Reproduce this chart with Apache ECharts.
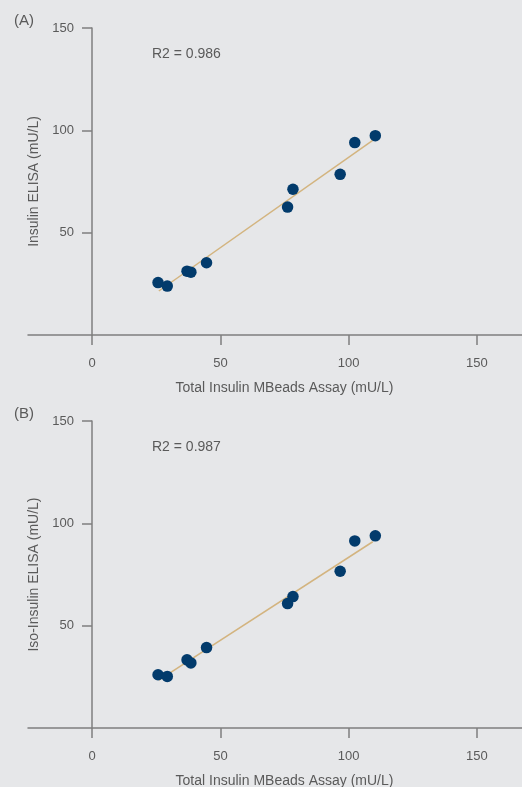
<!DOCTYPE html>
<html>
<head>
<meta charset="utf-8">
<script src="https://cdn.jsdelivr.net/npm/echarts@6/dist/echarts.min.js"></script>
<style>
  html, body { margin: 0; padding: 0; background: #e6e7e9; }
  #main { width: 522px; height: 787px; }
</style>
</head>
<body>
<div id="main"></div>
<script>
// x 值两图共用
var xVals = [25.7, 29.3, 37.0, 38.5, 44.6, 76.2, 78.3, 96.7, 102.4, 110.4]
var yA = [25.6, 23.9, 31.2, 30.7, 35.3, 62.5, 71.2, 78.5, 94.0, 97.4]
var yB = [26.0, 25.2, 33.3, 31.8, 39.3, 60.8, 64.2, 76.6, 91.4, 93.9]
// 拟合线两端点（从图上读的）
var fitA = [[26.0, 21.5], [109.4, 95.1]]
var fitB = [[26.0, 23.4], [109.4, 91.0]]
var xTicks = [0, 50, 100, 150]
var r2A = 'R2 = 0.986'
var r2B = 'R2 = 0.987'
var xName = 'Total Insulin MBeads Assay (mU/L)'
var yNameA = 'Insulin ELISA (mU/L)'
var yNameB = 'Iso-Insulin ELISA (mU/L)'

var textColor = '#5a5a5a'
var axisColor = '#7f7f7f'
var dotColor = '#023b6c'
var lineColor = '#d3b47f'

function pairs(xs, ys) {
  var res = []
  for (var i = 0; i < xs.length; i++) {
    res.push([xs[i], ys[i]])
  }
  return res
}

function makeX(idx) {
  return {
    gridIndex: idx,
    type: 'value',
    min: -25,
    max: 175,
    name: xName,
    nameLocation: 'middle',
    nameGap: 46,
    nameTextStyle: { color: textColor, fontSize: 14, fontFamily: 'Liberation Sans' },
    axisLine: { onZero: false, lineStyle: { color: axisColor, width: 1.5 } },
    axisTick: { show: true, length: 10, customValues: xTicks, lineStyle: { color: axisColor, width: 1.5 } },
    axisLabel: { margin: 22, color: textColor, fontSize: 13, fontFamily: 'Liberation Sans', customValues: xTicks },
    splitLine: { show: false }
  }
}

// y 轴挪到 x=0 处（用 offset，onZero 时标签不跟着走）
function makeY(idx, name) {
  return {
    gridIndex: idx,
    type: 'value',
    min: 0,
    max: 150,
    interval: 50,
    offset: -64,
    name: name,
    nameLocation: 'middle',
    nameGap: 49,
    nameTextStyle: { color: textColor, fontSize: 14, fontFamily: 'Liberation Sans' },
    axisLine: { onZero: false, lineStyle: { color: axisColor, width: 1.5 } },
    axisTick: { show: true, length: 10, lineStyle: { color: axisColor, width: 1.5 } },
    axisLabel: { margin: 18, color: textColor, fontSize: 13, fontFamily: 'Liberation Sans', showMinLabel: false },
    splitLine: { show: false }
  }
}

function labelTitle(text, left, top, size) {
  return {
    text: text,
    left: left,
    top: top,
    textStyle: { color: textColor, fontSize: size, fontWeight: 'normal', fontFamily: 'Liberation Sans' }
  }
}

var myChart = echarts.init(document.getElementById('main'))
var option = {
  backgroundColor: '#e6e7e9',
  animation: false,
  title: [
    labelTitle('(A)', 9, 8, 15),
    labelTitle(r2A, 147, 42, 14),
    labelTitle('(B)', 9, 401, 15),
    labelTitle(r2B, 147, 435, 14)
  ],
  grid: [
    { left: 28, top: 28, width: 513, height: 307, containLabel: false, outerBoundsMode: 'none' },
    { left: 28, top: 421, width: 513, height: 307, containLabel: false, outerBoundsMode: 'none' }
  ],
  xAxis: [makeX(0), makeX(1)],
  yAxis: [makeY(0, yNameA), makeY(1, yNameB)],
  series: [
    {
      type: 'line', xAxisIndex: 0, yAxisIndex: 0, data: fitA,
      showSymbol: false, z: 1,
      lineStyle: { color: lineColor, width: 1.5 }
    },
    {
      type: 'scatter', xAxisIndex: 0, yAxisIndex: 0, data: pairs(xVals, yA),
      symbolSize: 11.5, z: 3, itemStyle: { color: dotColor, opacity: 1 }
    },
    {
      type: 'line', xAxisIndex: 1, yAxisIndex: 1, data: fitB,
      showSymbol: false, z: 1,
      lineStyle: { color: lineColor, width: 1.5 }
    },
    {
      type: 'scatter', xAxisIndex: 1, yAxisIndex: 1, data: pairs(xVals, yB),
      symbolSize: 11.5, z: 3, itemStyle: { color: dotColor, opacity: 1 }
    }
  ]
}
myChart.setOption(option)
</script>
</body>
</html>
